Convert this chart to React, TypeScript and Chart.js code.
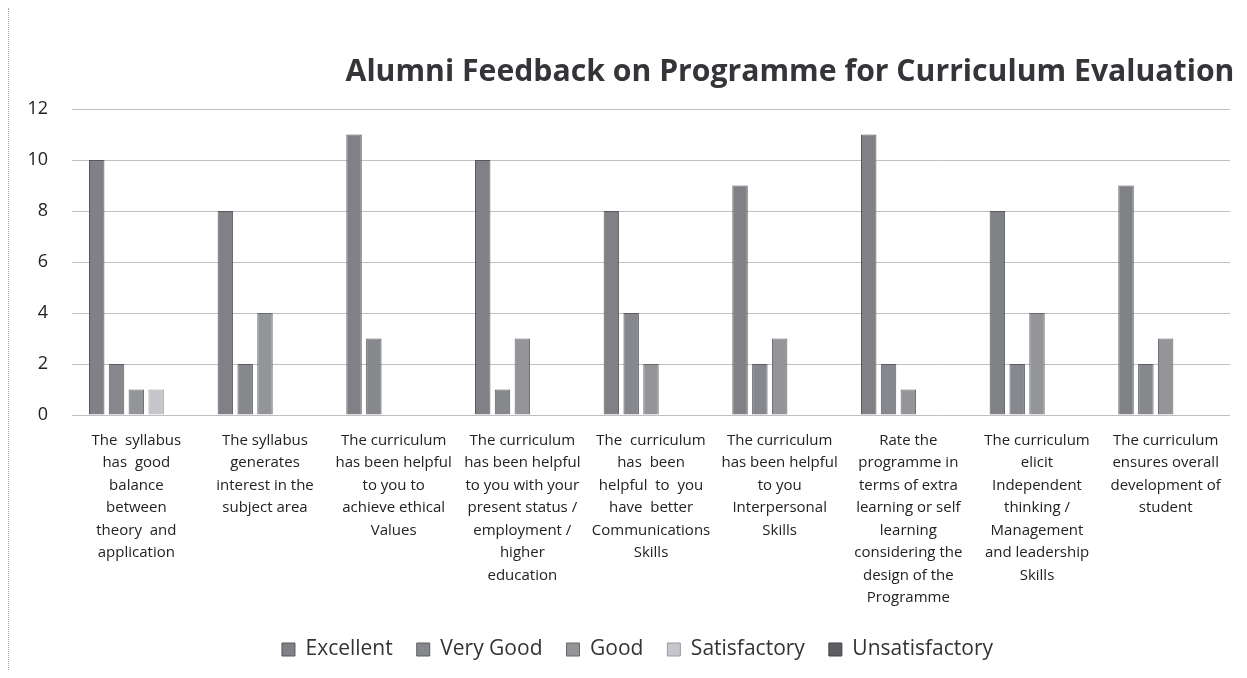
import React, { useEffect, useRef } from "react";
import { Chart, registerables } from "chart.js";

Chart.register(...registerables);

const categories: string[][] = [
  ["The  syllabus", "has  good", "balance", "between", "theory  and", "application"],
  ["The syllabus", "generates", "interest in the", "subject area"],
  ["The curriculum", "has been helpful", "to you to", "achieve ethical", "Values"],
  ["The curriculum", "has been helpful", "to you with your", "present status /", "employment /", "higher", "education"],
  ["The  curriculum", "has  been", "helpful  to  you", "have  better", "Communications", "Skills"],
  ["The curriculum", "has been helpful", "to you", "Interpersonal", "Skills"],
  ["Rate the", "programme in", "terms of extra", "learning or self", "learning", "considering the", "design of the", "Programme"],
  ["The curriculum", "elicit", "Independent", "thinking /", "Management", "and leadership", "Skills"],
  ["The curriculum", "ensures overall", "development of", "student"],
];

const excellent = [10, 8, 11, 10, 8, 9, 11, 8, 9];
const veryGood = [2, 2, 3, 1, 4, 2, 2, 2, 2];
const good = [1, 4, 0, 3, 2, 3, 1, 4, 3];
const satisfactory = [1, 0, 0, 0, 0, 0, 0, 0, 0];
const unsatisfactory = [0, 0, 0, 0, 0, 0, 0, 0, 0];

const yTicks = [0, 2, 4, 6, 8, 10, 12];

const titleText = "Alumni Feedback on Programme for Curriculum Evaluation";
const FONT = "'Open Sans', Lato, sans-serif";

const titlePlugin = {
  id: "customTitle",
  afterDraw(chart: any) {
    const ctx = chart.ctx;
    ctx.save();
    ctx.font = `bold 30.2px ${FONT}`;
    ctx.fillStyle = "#333538";
    ctx.textAlign = "center";
    ctx.textBaseline = "middle";
    const cx = (chart.chartArea.left + chart.chartArea.right) / 2 + 139;
    ctx.fillText(titleText, cx, chart.chartArea.top - 37);
    ctx.restore();
  },
};

const legendShift = {
  id: "legendShift",
  afterLayout(chart: any) {
    const l = chart.legend;
    if (l) {
      l.left += 18;
      l.right += 18;
    }
  },
};

export default function App() {
  const ref = useRef<HTMLCanvasElement | null>(null);
  useEffect(() => {
    if (!ref.current) return;
    const mk = (label: string, data: number[], bg: string, bd: string) => ({
      label,
      data,
      backgroundColor: bg,
      borderColor: bd,
      borderWidth: 1,
      categoryPercentage: 0.77,
      barPercentage: 0.78,
    });
    const chart = new Chart(ref.current, {
      type: "bar",
      data: {
        labels: categories,
        datasets: [
          mk("Excellent", excellent, "#7f8187", "#56585c"),
          mk("Very Good", veryGood, "#86888d", "#5b5d61"),
          mk("Good", good, "#939599", "#66686c"),
          mk("Satisfactory", satisfactory, "#c4c6cb", "#9a9ca0"),
          mk("Unsatisfactory", unsatisfactory, "#5c5e62", "#424447"),
        ],
      },
      options: {
        animation: false,
        responsive: false,
        layout: { padding: { top: 101, right: 9, left: 0, bottom: 0 } },
        plugins: {
          title: { display: false },
          tooltip: { enabled: false },
          legend: {
            position: "bottom",
            labels: {
              font: { family: FONT, size: 21 },
              color: "#333",
              boxWidth: 13,
              boxHeight: 13,
              padding: 24,
            },
          },
        },
        scales: {
          x: {
            grid: { display: false },
            border: { display: false },
            ticks: {
              maxRotation: 0,
              autoSkip: false,
              color: "#222",
              font: { family: FONT, size: 15, lineHeight: 1.5 },
              padding: 6,
            },
          },
          y: {
            min: 0,
            max: 12,
            afterBuildTicks: (axis: any) => {
              axis.ticks = yTicks.map((v) => ({ value: v }));
            },
            afterFit: (axis: any) => {
              axis.width = 63;
            },
            grid: { color: "#c0c0c0", lineWidth: 1, drawTicks: false },
            border: { display: false },
            ticks: {
              color: "#222",
              font: { family: FONT, size: 18 },
              padding: 24,
            },
          },
        },
      },
      plugins: [titlePlugin, legendShift],
    });
    return () => chart.destroy();
  }, []);
  return (
    <div style={{ borderLeft: "1px dotted #aaa", width: 1231, height: 662 }}>
      <canvas ref={ref} width={1230} height={662} style={{ display: "block" }} />
    </div>
  );
}
